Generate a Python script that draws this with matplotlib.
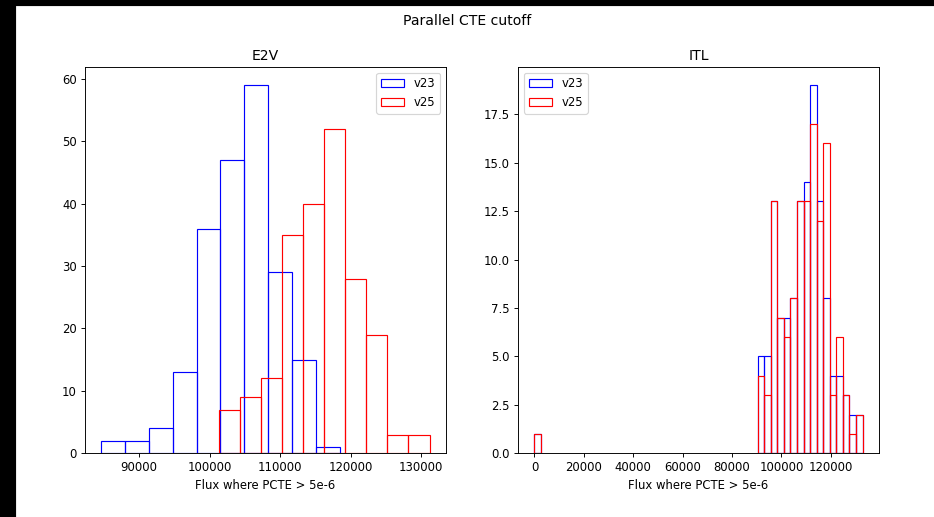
import numpy as np
import matplotlib
matplotlib.use("Agg")
import matplotlib.pyplot as plt
from matplotlib.patches import Rectangle

# E2V histograms: bin range and counts
e2v_v23_range = (84670, 118430)
e2v_v23_counts = [2, 2, 4, 13, 36, 47, 59, 29, 15, 1]
e2v_v25_range = (101290, 131180)
e2v_v25_counts = [7, 9, 12, 35, 40, 52, 28, 19, 3, 3]

# ITL histograms: 50 bins over the same range
itl_range = (0, 132900)
itl_nbins = 50
itl_v23_tail = [5, 5, 13, 7, 7, 8, 13, 14, 19, 13, 8, 4, 4, 3, 2, 2]
itl_v25_tail = [4, 3, 13, 7, 6, 8, 13, 13, 17, 12, 16, 3, 6, 3, 1, 2]
itl_first_bin = 1  # one outlier near zero

W, H = 934, 517
DPI = 84


def full_counts(tail, first):
    c = np.zeros(itl_nbins)
    c[0] = first
    c[itl_nbins - len(tail):] = tail
    return c


def open_hist(ax, rng, counts, color, label):
    edges = np.linspace(rng[0], rng[1], len(counts) + 1)
    _, _, patches = ax.hist(edges[:-1], bins=edges, weights=counts, fill=False,
                            edgecolor=color, label=label)
    # empty bins would leave a coloured line along the x axis
    for p, c in zip(patches, counts):
        if c == 0:
            p.set_visible(False)


fig, (ax1, ax2) = plt.subplots(1, 2, figsize=(W / DPI, H / DPI), dpi=DPI)
fig.subplots_adjust(left=85 / W, right=879 / W, bottom=1 - 453.3 / H,
                    top=1 - 66.7 / H, wspace=0.2)

open_hist(ax1, e2v_v23_range, e2v_v23_counts, 'b', 'v23')
open_hist(ax1, e2v_v25_range, e2v_v25_counts, 'r', 'v25')
ax1.set_title('E2V')
ax1.set_xlabel('Flux where PCTE > 5e-6')
ax1.legend(loc='upper right')

open_hist(ax2, itl_range, full_counts(itl_v23_tail, itl_first_bin), 'b', 'v23')
open_hist(ax2, itl_range, full_counts(itl_v25_tail, itl_first_bin), 'r', 'v25')
ax2.set_title('ITL')
ax2.set_xlabel('Flux where PCTE > 5e-6')
ax2.legend(loc='upper left')

fig.suptitle('Parallel CTE cutoff', y=1 - 14 / H)

# dark notebook border visible in the screenshot
fig.add_artist(Rectangle((0, 0), 15 / W, 1, transform=fig.transFigure,
                         color='black', zorder=10))
fig.add_artist(Rectangle((0, 1 - 5 / H), 1, 5 / H, transform=fig.transFigure,
                         color='black', zorder=10))

fig.savefig('out.png', dpi=DPI)
